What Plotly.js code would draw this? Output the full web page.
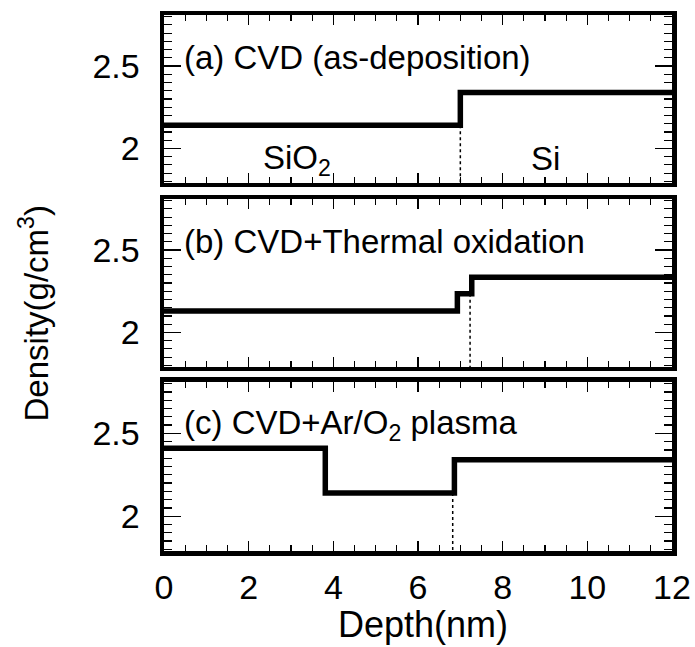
<!DOCTYPE html>
<html>
<head>
<meta charset="utf-8">
<script src="https://cdn.plot.ly/plotly-3.0.1.min.js"></script>
<style>html,body{margin:0;padding:0;background:#fff;overflow:hidden;}#chart{width:695px;height:647px;}#meta{position:absolute;left:0;top:700px;font:10px monospace;}</style>
</head>
<body>
<div id="chart"></div>
<div id="meta"></div>
<script>
// Depth (nm) breakpoints and density (g/cm3) levels, drawn as steps
const depthA = [0, 7.0, 12];
const densA  = [2.14, 2.34, 2.34];
const depthB = [0, 6.93, 7.27, 12];
const densB  = [2.13, 2.235, 2.335, 2.335];
const depthC = [0, 3.81, 6.86, 12];
const densC  = [2.41, 2.14, 2.34, 2.34];
// SiO2/Si interface (dotted): depth and top density
const interfaceX   = [7.0, 7.23, 6.82];
const interfaceTop = [2.14, 2.235, 2.14];
const panelLabels = ['(a) CVD (as-deposition)', '(b) CVD+Thermal oxidation', '(c) CVD+Ar/O<sub>2</sub> plasma'];
const xTickVals = [0, 2, 4, 6, 8, 10, 12];
const yTickVals = [2, 2.5];
const yTickText = ['2', '2.5'];
const xRange = [0, 12];
const yRange = [1.79, 2.81];

const FONT = 'Liberation Sans, Arial, Helvetica, sans-serif';
const domains = [[0.6866, 1.0], [0.3433, 0.6567], [0.0, 0.3153]];
const steps = [[depthA, densA], [depthB, densB], [depthC, densC]];
const TICKC = '#000';
const TICKW = 1.2;

const traces = [];
const layout = {
  width: 695, height: 647,
  margin: {l: 163.5, r: 23, t: 15, b: 96},
  showlegend: false,
  font: {family: FONT, color: '#000', size: 33},
  annotations: []
};

for (let i = 0; i < 3; i++) {
  const sfx = i === 0 ? '' : String(i + 1);
  const xa = 'x' + sfx, ya = 'y' + sfx;
  traces.push({
    x: steps[i][0], y: steps[i][1], xaxis: xa, yaxis: ya,
    type: 'scatter', mode: 'lines', line: {shape: 'hv', color: '#000', width: 5.5}
  });
  traces.push({
    x: [interfaceX[i], interfaceX[i]], y: [interfaceTop[i], yRange[0]], xaxis: xa, yaxis: ya,
    type: 'scatter', mode: 'lines', line: {color: '#000', width: 1.5, dash: 'dot'}
  });
  layout['xaxis' + sfx] = {
    domain: [0, 1], anchor: ya, range: xRange,
    showgrid: false, zeroline: false,
    showline: true, linecolor: '#000', linewidth: 4.5, mirror: 'allticks',
    tickmode: 'array', tickvals: xTickVals, ticktext: xTickVals.map(String),
    ticks: 'inside', ticklen: 10, tickwidth: TICKW, tickcolor: TICKC,
    showticklabels: i === 2,
    tickfont: {family: FONT, size: 34, color: '#000'},
    ticklabelstandoff: 3,
    minor: {tickmode: 'linear', tick0: 0, dtick: 0.5, ticks: 'inside', ticklen: 6, tickwidth: TICKW, tickcolor: TICKC, showgrid: false}
  };
  layout['yaxis' + sfx] = {
    domain: domains[i], anchor: xa, range: yRange,
    showgrid: false, zeroline: false,
    showline: true, linecolor: '#000', linewidth: 4.5, mirror: 'allticks',
    tickmode: 'array', tickvals: yTickVals, ticktext: yTickText,
    ticks: 'inside', ticklen: 17, tickwidth: TICKW, tickcolor: TICKC,
    tickfont: {family: FONT, size: 34, color: '#000'},
    ticklabelstandoff: 13,
    minor: {tickmode: 'linear', tick0: 0, dtick: 0.05, ticks: 'inside', ticklen: 8, tickwidth: TICKW, tickcolor: TICKC, showgrid: false}
  };
  layout.annotations.push({
    text: panelLabels[i], xref: xa, yref: ya, x: 0.42, y: 2.55,
    xanchor: 'left', yanchor: 'middle', showarrow: false,
    font: {family: FONT, size: 33, color: '#000'}
  });
}
layout.annotations.push({
  text: 'SiO<sub>2</sub>', xref: 'x', yref: 'y', x: 3.13, y: 1.93,
  xanchor: 'center', yanchor: 'middle', showarrow: false,
  font: {family: FONT, size: 33, color: '#000'}
});
layout.annotations.push({
  text: 'Si', xref: 'x', yref: 'y', x: 9.0, y: 1.94,
  xanchor: 'center', yanchor: 'middle', showarrow: false,
  font: {family: FONT, size: 33, color: '#000'}
});
layout.annotations.push({
  text: 'Depth(nm)', xref: 'paper', yref: 'paper', x: 0.51, y: -0.138,
  xanchor: 'center', yanchor: 'middle', showarrow: false,
  font: {family: FONT, size: 36, color: '#000'}
});
layout.annotations.push({
  text: 'Density(g/cm<sup>3</sup>)', xref: 'paper', yref: 'paper', x: -0.255, y: 0.444,
  xanchor: 'center', yanchor: 'middle', textangle: -90, showarrow: false,
  font: {family: FONT, size: 33, color: '#000'}
});

Plotly.newPlot('chart', traces, layout, {staticPlot: true}).then(function (gd) {
  const n = gd.querySelectorAll('path.xtick, path.ytick, path.x2tick, path.y2tick, path.x3tick, path.y3tick').length;
  document.getElementById('meta').textContent = String(n);
});
</script>
</body>
</html>
